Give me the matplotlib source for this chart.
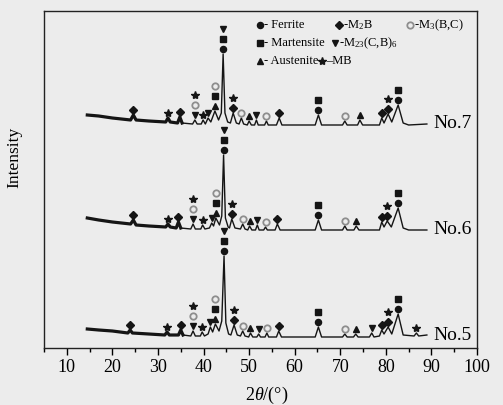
import numpy as np
import matplotlib
matplotlib.use("Agg")
import matplotlib.pyplot as plt
from matplotlib.ticker import MultipleLocator

# XRD traces: (2theta, intensity above the pattern's own flat level), a.u.
no7_trace = [(14.5, 10), (17, 9), (20, 7), (24.0, 5), (24.6, 10), (25.2, 5), (28, 4),
             (31.7, 3), (32.2, 7), (32.7, 3), (34.3, 2), (34.8, 8), (35.3, 2), (37.6, 1),
             (38.1, 5), (38.6, 1), (39.5, 1), (39.9, 5), (40.4, 1), (41.0, 7), (41.6, 3),
             (42.5, 14), (43.3, 5), (43.9, 12), (44.3, 71), (44.7, 12), (45.3, 3), (45.9, 2),
             (46.5, 12), (47.2, 2), (47.8, 1), (48.3, 7), (48.8, 1), (49.6, 0), (50.0, 4),
             (50.5, 0), (51.2, 0), (51.6, 5), (52.0, 0), (53.4, 0), (53.8, 4), (54.2, 0),
             (56.0, 0), (56.6, 7), (57.2, 0), (64.5, 0), (65.2, 10), (65.9, 0), (70.5, 0),
             (71.0, 4), (71.5, 0), (73.8, 0), (74.3, 5), (74.9, 0), (78.6, 0), (79.1, 7),
             (79.6, 2), (80.5, 11), (81.3, 3), (82.7, 20), (83.8, 2), (85.0, 0), (89.0, 1)]

no6_trace = [(14.5, 12), (17, 10), (20, 8), (24.0, 6), (24.6, 10), (25.2, 5), (28, 4),
             (31.7, 3), (32.2, 6), (32.7, 3), (34.0, 2), (34.5, 8), (35.0, 2), (37.2, 1),
             (37.7, 6), (38.2, 1), (39.4, 1), (39.8, 5), (40.3, 1), (41.3, 2), (41.8, 7),
             (42.2, 4), (42.7, 12), (43.5, 5), (44.0, 14), (44.4, 75), (44.8, 12), (45.4, 3),
             (45.7, 2), (46.2, 11), (46.9, 2), (48.1, 1), (48.6, 6), (49.1, 1), (49.7, 0),
             (50.1, 4), (50.6, 0), (51.4, 0), (51.8, 5), (52.2, 0), (53.2, 0), (53.6, 3),
             (54.0, 0), (55.7, 0), (56.2, 6), (56.8, 0), (64.5, 0), (65.2, 10), (65.9, 0),
             (70.5, 0), (71.0, 4), (71.5, 0), (73.0, 0), (73.5, 4), (74.1, 0), (78.6, 0),
             (79.1, 8), (79.6, 3), (80.3, 9), (81.2, 3), (82.7, 22), (83.8, 2), (85.0, 0),
             (89.0, 0)]

no5_trace = [(14.5, 8), (17, 7), (20, 6), (23.4, 4), (23.9, 7), (24.4, 4), (28, 3),
             (31.5, 2), (32.0, 5), (32.5, 2), (34.5, 2), (35.0, 7), (35.5, 2), (37.2, 1),
             (37.7, 6), (38.2, 1), (39.3, 1), (39.7, 5), (40.2, 1), (41.0, 3), (41.5, 10),
             (42.0, 5), (42.6, 13), (43.4, 6), (44.0, 16), (44.5, 81), (44.9, 14), (45.5, 3),
             (46.0, 2), (46.7, 12), (47.4, 2), (48.1, 1), (48.6, 6), (49.1, 1), (49.9, 0),
             (50.3, 4), (50.8, 0), (51.7, 0), (52.1, 3), (52.5, 0), (53.5, 0), (53.9, 4),
             (54.3, 0), (56.0, 0), (56.5, 6), (57.1, 0), (64.5, 0), (65.2, 10), (65.9, 0),
             (70.5, 0), (71.0, 3), (71.5, 0), (72.9, 0), (73.4, 3), (73.9, 0), (76.4, 0),
             (76.9, 4), (77.4, 0), (78.6, 1), (79.1, 7), (79.6, 3), (80.5, 10), (81.3, 3),
             (82.7, 23), (83.8, 2), (86.2, 1), (86.7, 4), (87.2, 1), (89.0, 2)]

# phase marks above peaks, listed bottom -> top
# F ferrite, M martensite, A austenite, B M2B, C M3(B,C), G M23(C,B)6, S MB
no7_peaks = [(24.6, "B"), (32.2, "S"), (34.8, "B"), (38.1, "GCS"), (39.9, "S"), (41.0, "G"),
             (42.5, "AMC"), (44.3, "FMG"), (46.5, "BS"), (48.3, "C"), (50.0, "A"),
             (51.6, "G"), (53.8, "C"), (56.6, "B"), (65.2, "FM"), (71.0, "C"), (74.3, "A"),
             (79.1, "B"), (80.5, "BS"), (82.7, "FM")]
no6_peaks = [(24.6, "B"), (32.2, "S"), (34.5, "B"), (37.7, "GCS"), (39.8, "S"), (41.8, "G"),
             (42.7, "AMC"), (44.4, "FMG"), (46.2, "BS"), (48.6, "C"), (50.1, "A"),
             (51.8, "G"), (53.6, "C"), (56.2, "B"), (65.2, "FM"), (71.0, "C"), (73.5, "A"),
             (79.1, "B"), (80.3, "BS"), (82.7, "FM")]
no5_peaks = [(23.9, "B"), (32.0, "S"), (35.0, "B"), (37.7, "GCS"), (39.7, "S"), (41.5, "G"),
             (42.6, "AMC"), (44.5, "FMG"), (46.7, "BS"), (48.6, "C"), (50.3, "A"),
             (52.1, "G"), (53.9, "C"), (56.5, "B"), (65.2, "FM"), (71.0, "C"), (73.4, "A"),
             (76.9, "G"), (79.1, "B"), (80.5, "BS"), (82.7, "FM"), (86.7, "S")]

sample_names = ["No.7", "No.6", "No.5"]
sample_offsets = [223, 118, 11]

phase_names = {"F": "- Ferrite", "B": "-M$_2$B", "C": "-M$_3$(B,C)",
               "M": "- Martensite", "G": "-M$_{23}$(C,B)$_6$",
               "A": "- Austenite", "S": "\u2013MB"}

BG = "#ececec"
INK = "#151515"
RING = "#8e8e8e"
STYLE = {
    "F": dict(marker="o", ms=4.4, color=INK),
    "M": dict(marker="s", ms=4.2, color=INK),
    "A": dict(marker="^", ms=4.6, color=INK),
    "B": dict(marker="D", ms=3.6, color=INK),
    "C": dict(marker="o", ms=4.6, mfc="none", mec=RING, mew=1.3),
    "G": dict(marker="v", ms=4.6, color=INK),
    "S": dict(marker="*", ms=6.0, color=INK),
}

plt.rcParams["font.family"] = "Liberation Serif"
plt.rcParams["mathtext.fontset"] = "custom"
plt.rcParams["mathtext.rm"] = "Liberation Serif"
plt.rcParams["mathtext.it"] = "Liberation Serif:italic"

fig = plt.figure(figsize=(5.03, 4.05), dpi=100, facecolor=BG)
ax = fig.add_axes([44 / 503, 57 / 405, 433 / 503, 337 / 405], facecolor=BG)

traces = [no7_trace, no6_trace, no5_trace]
peaks = [no7_peaks, no6_peaks, no5_peaks]

for name, off, tr, pk in zip(sample_names, sample_offsets, traces, peaks):
    tt = np.array([p[0] for p in tr])
    ii = np.array([p[1] for p in tr]) + off
    ax.plot(tt, ii, color=INK, lw=1.0, solid_joinstyle="round")
    # noisy low-angle part looks heavier in the original
    low = tt <= 36
    ax.plot(tt[low], ii[low], color=INK, lw=2.3, solid_joinstyle="round")
    ax.text(90.4, off + 1, name, fontsize=14, ha="left", va="center")

    lookup = dict(tr)
    for pos, phases in pk:
        top = off + lookup[pos]
        for k, ph in enumerate(phases):
            ax.plot(pos, top + 5 + k * 10, ls="none", **STYLE[ph])

ax.set_xlim(5, 100)
ax.set_ylim(0, 337)
ax.set_yticks([])
ax.set_xticks(np.arange(10, 101, 10))
ax.xaxis.set_minor_locator(MultipleLocator(5))
ax.tick_params(which="major", direction="out", length=5, width=1, labelsize=13, pad=3)
ax.tick_params(which="minor", direction="out", length=3, width=1)
for sp in ax.spines.values():
    sp.set_linewidth(1.0)
    sp.set_color("#222222")

ax.set_xlabel(r"2$\theta$/(°)", fontsize=13)
ax.xaxis.set_label_coords(0.515, -0.108)
ax.set_ylabel("Intensity", fontsize=12.5)
ax.yaxis.set_label_coords(-0.05, 0.567)

# legend written as free text in the upper right, like the original
def fpx(x, y):
    return x / 503, 1 - y / 405

legend_rows = [("F", 260, 25), ("B", 339, 25), ("C", 410, 25),
               ("M", 260, 43), ("G", 335, 43),
               ("A", 260, 61), ("S", 322, 61)]
for ph, x, y in legend_rows:
    fx, fy = fpx(x, y)
    fig.add_artist(plt.Line2D([fx], [fy], transform=fig.transFigure, ls="none", **STYLE[ph]))
    tx, _ = fpx(x + 4, y)
    fig.text(tx, fy, phase_names[ph], fontsize=9, ha="left", va="center")

fig.savefig("out.png", dpi=100, facecolor=BG)
